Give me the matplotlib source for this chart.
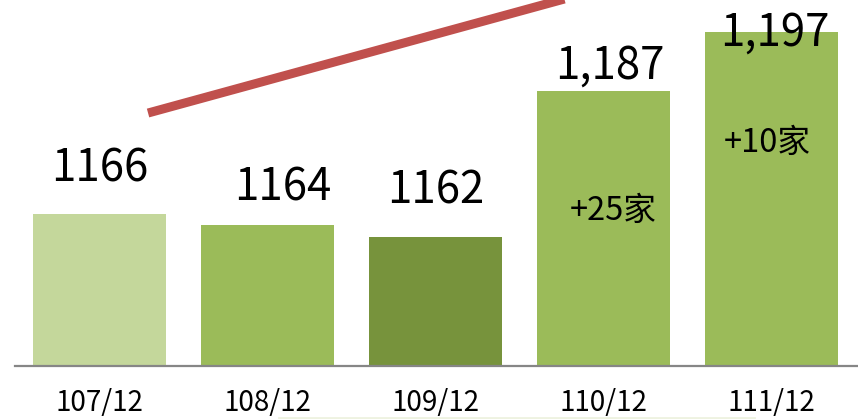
import matplotlib
matplotlib.use("Agg")
import matplotlib.pyplot as plt
from matplotlib.lines import Line2D

# Data
periods = ["107/12", "108/12", "109/12", "110/12", "111/12"]
counts = [1166, 1164, 1162, 1187, 1197]
count_labels = ["1166", "1164", "1162", "1,187", "1,197"]
bar_colors = ["#C4D79B", "#9BBB59", "#77933C", "#9BBB59", "#9BBB59"]
growth_bars = [3, 4]  # bars that get a "+N家" note (diff vs previous year)

plt.rcParams["font.family"] = ["Noto Sans CJK TC", "DejaVu Sans"]

fig = plt.figure(figsize=(8.58, 4.19), dpi=100)
ax = fig.add_axes([15 / 858, 53 / 419, 843 / 858, 366 / 419])

x = list(range(len(periods)))
ax.bar(x, counts, width=0.79, color=bar_colors, zorder=2)
ax.set_xlim(-0.503, 4.515)
ax.set_ylim(1140, 1202.5)

for side in ("left", "right", "top"):
    ax.spines[side].set_visible(False)
ax.spines["bottom"].set_color("#868686")
ax.spines["bottom"].set_linewidth(1.6)
ax.set_yticks([])
ax.set_xticks(x)
ax.set_xticklabels(periods, fontsize=20)
ax.tick_params(axis="x", length=0, pad=16)

# value labels, nudged like in the slide (pixel offsets)
label_dx = [0, 15, 0, 6, 3]
label_dy = [45, 38, 47, 25, 0]
for i, (v, lab) in enumerate(zip(counts, count_labels)):
    ax.annotate(lab, (i, v), xytext=(label_dx[i] * 0.72, label_dy[i] * 0.72),
                textcoords="offset points", ha="center", va="center",
                fontsize=31.5, color="#000000", zorder=4)

# growth notes inside the last bars
note_off = {3: (10, -120), 4: (-4, -111)}
for i in growth_bars:
    diff = counts[i] - counts[i - 1]
    dx, dy = note_off[i]
    ax.annotate(f"+{diff}家", (i, counts[i]), xytext=(dx * 0.72, dy * 0.72),
                textcoords="offset points", ha="center", va="center",
                fontsize=23.5, color="#000000", zorder=4)

# red trend arrow (head runs off the top of the slide)
ax.add_line(Line2D([0.289, 3.0], [1183.2, 1204.5], color="#C0504D", lw=6.5,
                   solid_capstyle="butt", zorder=3))

# faint rule at the very bottom
fig.add_artist(Line2D([279 / 858, 754 / 858], [1.5 / 419, 1.5 / 419],
                      color="#EEF2E0", lw=2))

fig.savefig("out.png", dpi=100, facecolor="white")
